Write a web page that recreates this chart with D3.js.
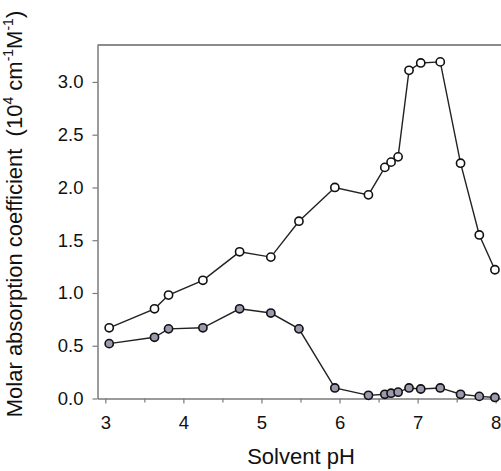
<!DOCTYPE html>
<html>
<head>
<meta charset="utf-8">
<script src="https://cdn.jsdelivr.net/npm/d3@7"></script>
<style>
  body { margin: 0; background: #fff; }
  svg { display: block; font-family: "Liberation Sans", Arial, sans-serif; }
</style>
</head>
<body>
<script>
var pH = [3.05, 3.63, 3.81, 4.25, 4.72, 5.12, 5.48, 5.94, 6.37, 6.58, 6.66, 6.75, 6.89, 7.04, 7.29, 7.55, 7.79, 7.99];
var openSeries = [0.67, 0.85, 0.98, 1.12, 1.39, 1.34, 1.68, 2.00, 1.93, 2.19, 2.24, 2.29, 3.11, 3.18, 3.19, 2.23, 1.55, 1.22];
var filledSeries = [0.52, 0.58, 0.66, 0.67, 0.85, 0.81, 0.66, 0.10, 0.03, 0.04, 0.05, 0.06, 0.10, 0.09, 0.10, 0.04, 0.02, 0.01];
var xTicks = [3, 4, 5, 6, 7, 8];
var xMinor = [3.5, 4.5, 5.5, 6.5, 7.5];
var yTicks = [0, 0.5, 1.0, 1.5, 2.0, 2.5, 3.0];

var width = 501, height = 471;

var svg = d3.select("body").append("svg")
    .attr("width", width)
    .attr("height", height);

var x = d3.scaleLinear().domain([2.9, 8.1]).range([97.5, 503.5]),
    y = d3.scaleLinear().domain([0, 3.35]).range([398.5, 45]);

var axisColor = "#7a7a7a";

// frame top line
svg.append("line")
    .attr("x1", x(2.9)).attr("x2", width)
    .attr("y1", y(3.35)).attr("y2", y(3.35))
    .attr("stroke", "#666").attr("stroke-width", 1.5);

svg.append("g")
    .attr("transform", "translate(0," + y(0) + ")")
    .call(d3.axisBottom(x).tickValues(xTicks).tickFormat(d3.format("d")).tickSize(5).tickPadding(12).tickSizeOuter(0));
svg.append("g")
    .attr("transform", "translate(0," + y(0) + ")")
    .call(d3.axisBottom(x).tickValues(xMinor).tickFormat("").tickSize(4).tickSizeOuter(0))
    .select(".domain").remove();

svg.append("g")
    .attr("transform", "translate(" + x(2.9) + ",0)")
    .call(d3.axisLeft(y).tickValues(yTicks).tickFormat(d3.format(".1f")).tickSize(5).tickPadding(9).tickSizeOuter(0));

svg.selectAll(".domain").attr("stroke", axisColor).attr("stroke-width", 1.5);
svg.selectAll(".tick line").attr("stroke", axisColor).attr("stroke-width", 1.2);
svg.selectAll(".tick text").attr("fill", "#111").style("font-size", "18.5px").style("font-family", "Liberation Sans, Arial, sans-serif");

// axis titles
svg.append("text")
    .attr("x", 301).attr("y", 464)
    .attr("text-anchor", "middle")
    .style("font-size", "22px").attr("fill", "#111")
    .text("Solvent pH");

var yt = svg.append("text")
    .attr("transform", "translate(22,214) rotate(-90)")
    .attr("text-anchor", "middle")
    .style("font-size", "22px").attr("fill", "#111")
    .attr("xml:space", "preserve");
yt.append("tspan").text("Molar absorption coefficient  (10");
yt.append("tspan").attr("dy", -9).style("font-size", "14px").text("4");
yt.append("tspan").attr("dy", 9).text(" cm");
yt.append("tspan").attr("dy", -9).style("font-size", "14px").text("-1");
yt.append("tspan").attr("dy", 9).text("M");
yt.append("tspan").attr("dy", -9).style("font-size", "14px").text("-1");
yt.append("tspan").attr("dy", 9).text(")");

var line = d3.line()
    .x(function(d) { return x(d[0]); })
    .y(function(d) { return y(d[1]); });

function drawSeries(values, fill) {
  var data = pH.map(function(p, i) { return [p, values[i]]; });
  svg.append("path")
      .datum(data)
      .attr("fill", "none")
      .attr("stroke", "#222")
      .attr("stroke-width", 1.4)
      .attr("d", line);
  svg.selectAll(null)
    .data(data)
    .enter().append("circle")
      .attr("cx", function(d) { return x(d[0]); })
      .attr("cy", function(d) { return y(d[1]); })
      .attr("r", 4.1)
      .attr("fill", fill)
      .attr("stroke", "#111")
      .attr("stroke-width", 1.6);
}

drawSeries(openSeries, "#fff");
drawSeries(filledSeries, "#9b99ad");
</script>
</body>
</html>
